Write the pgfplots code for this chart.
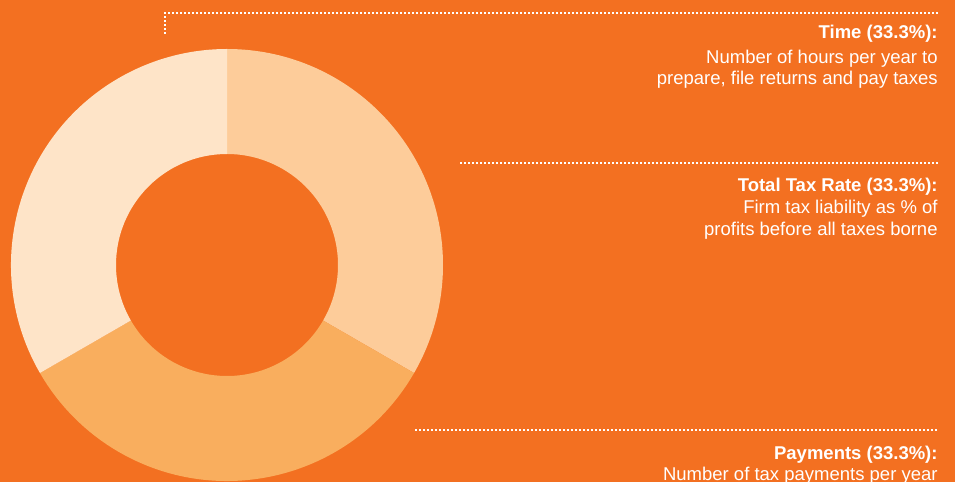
\documentclass[border=0pt]{standalone}
\usepackage{pgfplots}
\usepackage{pgfplotstable}
\pgfplotsset{compat=1.18}
\usepackage{fontspec}
\setmainfont{Liberation Sans}
\definecolor{bgorange}{RGB}{243,112,33}
\definecolor{sliceA}{RGB}{253,204,154}
\definecolor{sliceB}{RGB}{249,174,94}
\definecolor{sliceC}{RGB}{254,228,200}
\pgfplotstableread{
label value
Time 33.3
Payments 33.3
TotalTaxRate 33.3
}\slices
\begin{document}
\begin{tikzpicture}
\pgfplotstablegetelem{0}{value}\of\slices \let\vA\pgfplotsretval
\pgfplotstablegetelem{1}{value}\of\slices \let\vB\pgfplotsretval
\pgfplotstablegetelem{2}{value}\of\slices \let\vC\pgfplotsretval
\pgfmathsetmacro{\tot}{\vA+\vB+\vC}
\pgfmathsetmacro{\aA}{90}
\pgfmathsetmacro{\aB}{90-360*\vA/\tot}
\pgfmathsetmacro{\aC}{\aB-360*\vB/\tot}
\pgfmathsetmacro{\aD}{\aC-360*\vC/\tot}
\begin{axis}[
  x=0.5pt, y=0.5pt,
  xmin=0, xmax=955, ymin=0, ymax=482,
  scale only axis, hide axis, clip=true,
]
\fill[bgorange] (axis cs:0,0) rectangle (axis cs:955,482);
% donut slices, centre (227,217), outer r=216 px, inner r=111 px
\fill[sliceA] (axis cs:227,217) ++(\aA:108pt) arc[start angle=\aA, end angle=\aB, radius=108pt] -- ++(\aB+180:52.5pt) arc[start angle=\aB, end angle=\aA, radius=55.5pt] -- cycle;
\fill[sliceB] (axis cs:227,217) ++(\aB:108pt) arc[start angle=\aB, end angle=\aC, radius=108pt] -- ++(\aC+180:52.5pt) arc[start angle=\aC, end angle=\aB, radius=55.5pt] -- cycle;
\fill[sliceC] (axis cs:227,217) ++(\aC:108pt) arc[start angle=\aC, end angle=\aD, radius=108pt] -- ++(\aD+180:52.5pt) arc[start angle=\aD, end angle=\aC, radius=55.5pt] -- cycle;
% dotted leader lines
\draw[white, line width=1pt, dash pattern=on 1pt off 1pt] (axis cs:165,448) -- (axis cs:165,469) -- (axis cs:938,469);
\draw[white, line width=1pt, dash pattern=on 1pt off 1pt] (axis cs:460,319) -- (axis cs:938,319);
\draw[white, line width=1pt, dash pattern=on 1pt off 1pt] (axis cs:415,52) -- (axis cs:938,52);
% labels
\tikzset{lbl/.style={anchor=base east, text=white, inner sep=0pt, font=\fontsize{9.25}{11}\selectfont}}
\node[lbl] at (axis cs:938,443) {\textbf{Time (33.3\%):}};
\node[lbl] at (axis cs:938,418) {Number of hours per year to};
\node[lbl] at (axis cs:938,397) {prepare, file returns and pay taxes};
\node[lbl] at (axis cs:938,290.5) {\textbf{Total Tax Rate (33.3\%):}};
\node[lbl] at (axis cs:938,268) {Firm tax liability as \% of};
\node[lbl] at (axis cs:938,246) {profits before all taxes borne};
\node[lbl] at (axis cs:938,22.5) {\textbf{Payments (33.3\%):}};
\node[lbl] at (axis cs:938,1) {Number of tax payments per year};
\end{axis}
\end{tikzpicture}
\end{document}
